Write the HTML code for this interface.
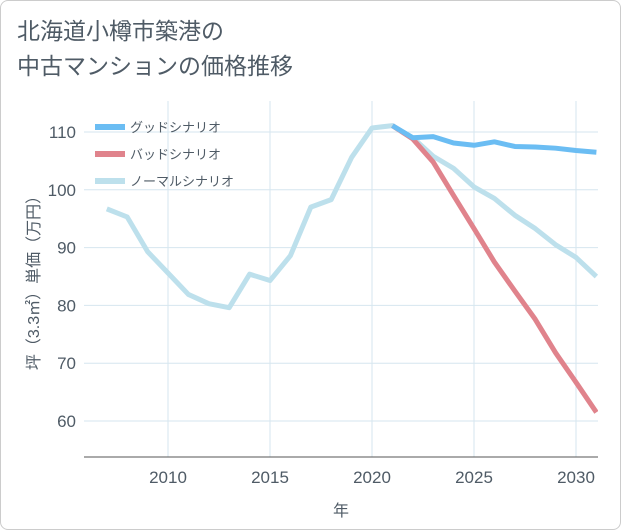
<!DOCTYPE html>
<html><head><meta charset="utf-8"><style>
body{margin:0;background:#fff;font-family:"Liberation Sans","Noto Sans CJK JP",sans-serif;}
.wrap{position:relative;width:619px;height:528px;border:1px solid #ccc;border-radius:8px;overflow:hidden;background:#fff}
.title{position:absolute;left:16px;top:13px;font-size:23px;line-height:35px;color:#4f5b66;}
svg{position:absolute;left:0;top:0}
</style></head><body>
<div class="wrap">
<div class="title">北海道小樽市築港の<br>中古マンションの価格推移</div>
<svg id="c" width="621" height="530"></svg>
</div>
<script>
const years=[2007,2008,2009,2010,2011,2012,2013,2014,2015,2016,2017,2018,2019,2020,2021,2022,2023,2024,2025,2026,2027,2028,2029,2030,2031];
const normal=[96.7,95.3,89.3,85.6,81.9,80.3,79.6,85.4,84.3,88.6,97.0,98.3,105.6,110.7,111.1,109.0,105.8,103.7,100.5,98.5,95.6,93.3,90.5,88.3,85.0];
const goodYears=[2021,2022,2023,2024,2025,2026,2027,2028,2029,2030,2031];
const good=[111.1,109.0,109.2,108.1,107.7,108.3,107.5,107.4,107.2,106.8,106.5];
const bad=[111.1,108.8,104.8,99.0,93.3,87.5,82.5,77.6,71.8,66.7,61.5];
const xTicks=[2010,2015,2020,2025,2030];
const yTicks=[60,70,80,90,100,110];
const L=83,R=597,T=100,B=456;
const x=v=>167+(v-2010)*20.4;
const y=v=>131+(110-v)*5.78;
const TC='#4f5b66';
const s=document.getElementById('c');const NS='http://www.w3.org/2000/svg';
function mk(t,a,p){const e=document.createElementNS(NS,t);for(const k in a)e.setAttribute(k,a[k]);(p||s).appendChild(e);return e;}
yTicks.forEach(v=>{const l=mk('line',{x1:L,x2:R,y1:y(v),y2:y(v),stroke:'#d6e6ef','stroke-width':1});


const t=mk('text',{x:L-8,y:y(v)+6,'text-anchor':'end','font-size':17,fill:TC});t.textContent=v;

});
xTicks.forEach(v=>{const l=mk('line',{x1:x(v),x2:x(v),y1:T,y2:B,stroke:'#d6e6ef','stroke-width':1});


const t=mk('text',{x:x(v),y:482,'text-anchor':'middle','font-size':17,fill:TC});t.textContent=v;

});
const ax=mk('line',{x1:L,x2:R,y1:B,y2:B,stroke:'#555','stroke-width':1});


const xt=mk('text',{x:340,y:515,'text-anchor':'middle','font-size':16,fill:TC});xt.textContent='年';


const yt=mk('text',{x:0,y:0,'text-anchor':'middle','font-size':16,fill:TC,transform:'translate(38,278) rotate(-90)'});yt.textContent='坪（3.3㎡）単価（万円）';


function line(xs,vs,c,n){const p=mk('polyline',{points:xs.map((v,i)=>x(v)+','+y(vs[i])).join(' '),fill:'none',stroke:c,'stroke-width':5,'stroke-linejoin':'round'});

}
const cp=mk('clipPath',{id:'cp'});mk('rect',{x:L,y:T,width:R-L,height:B-T},cp);
line(years,normal,'#bde0ec','normal-scenario-line');
line(goodYears,bad,'#e0838c','bad-scenario-line');
line(goodYears,good,'#6bbdf3','good-scenario-line');
s.querySelectorAll('polyline').forEach(p=>p.setAttribute('clip-path','url(#cp)'));
[['グッドシナリオ','#6bbdf3'],['バッドシナリオ','#e0838c'],['ノーマルシナリオ','#bde0ec']].forEach((d,i)=>{
const g=mk('g',{});
mk('line',{x1:94,x2:124,y1:126+i*27,y2:126+i*27,stroke:d[1],'stroke-width':6},g);
const t=mk('text',{x:129,y:131+i*27,'font-size':13,fill:TC},g);t.textContent=d[0];});
</script>
</body></html>
